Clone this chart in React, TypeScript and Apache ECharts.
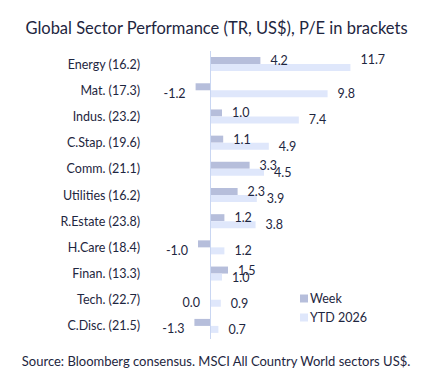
import React, { useEffect, useRef } from "react";
import * as echarts from "echarts";

const categories = [
  "Energy (16.2)",
  "Mat. (17.3)",
  "Indus. (23.2)",
  "C.Stap. (19.6)",
  "Comm. (21.1)",
  "Utilities (16.2)",
  "R.Estate (23.8)",
  "H.Care (18.4)",
  "Finan. (13.3)",
  "Tech. (22.7)",
  "C.Disc. (21.5)",
];
const weekValues = [4.2, -1.2, 1.0, 1.1, 3.3, 2.3, 1.2, -1.0, 1.5, 0.0, -1.3];
const ytdValues = [11.7, 9.8, 7.4, 4.9, 4.5, 3.9, 3.8, 1.2, 1.0, 0.9, 0.7];
const seriesNames = ["Week", "YTD 2026"];
const titleText = "Global Sector Performance (TR, US$), P/E in brackets";
const sourceText = "Source: Bloomberg consensus. MSCI All Country World sectors US$.";

const FONT = "Lato";
const TEXT = "#1e2640";

export default function App() {
  const ref = useRef<HTMLDivElement>(null);
  useEffect(() => {
    document.body.style.margin = "0";
    if (!ref.current) return;
    const chart = echarts.init(ref.current, null, { renderer: "svg" });
    const maxYtd = Math.max(...ytdValues);
    chart.setOption({
      animation: false,
      textStyle: { fontFamily: FONT, color: TEXT },
      title: {
        text: titleText,
        left: "center",
        top: 14,
        textStyle: { fontFamily: FONT, fontSize: 16.5, fontWeight: "normal", color: TEXT },
      },
      graphic: [
        {
          type: "text",
          left: "center",
          top: 354,
          style: { text: sourceText, fontFamily: FONT, fontSize: 13, fill: TEXT },
        },
      ],
      legend: {
        orient: "vertical",
        left: 295,
        top: 287,
        itemWidth: 8,
        itemHeight: 8,
        itemGap: 6,
        icon: "rect",
        textStyle: { fontFamily: FONT, fontSize: 12.5, color: TEXT, padding: [0, 0, 0, -3] },
        data: seriesNames,
      },
      grid: { left: 150, right: 55, top: 51, bottom: 40 },
      xAxis: {
        type: "value",
        min: -5,
        max: 14,
        show: false,
      },
      yAxis: {
        type: "category",
        data: categories,
        inverse: true,
        axisLine: { show: false },
        axisTick: { show: false },
        axisLabel: { fontFamily: FONT, fontSize: 12.5, color: TEXT, margin: 10 },
      },
      series: [
        {
          name: seriesNames[0],
          type: "bar",
          data: weekValues,
          barWidth: 7,
          barGap: "0%",
          itemStyle: { color: "#b6bedb" },
          label: {
            show: true,
            position: "right",
            distance: 10,
            fontFamily: FONT,
            fontSize: 12.5,
            color: TEXT,
            formatter: (p: any) => p.value.toFixed(1),
          },
          labelLayout: (p: any) => {
            const v = weekValues[p.dataIndex];
            if (v <= 0) {
              return { x: p.rect.x - 10 - p.labelRect.width, align: "left" };
            }
            return {};
          },
          markLine: {
            silent: true,
            symbol: "none",
            label: { show: false },
            lineStyle: { color: "#c9d6f2", type: "solid", width: 1 },
            data: [{ xAxis: 0 }],
          },
        },
        {
          name: seriesNames[1],
          type: "bar",
          data: ytdValues.map((v) =>
            v === maxYtd ? { value: v, label: { offset: [0, -8] } } : v
          ),
          barWidth: 7,
          barGap: "0%",
          itemStyle: { color: "#dfe7fb" },
          label: {
            show: true,
            position: "right",
            distance: 10,
            fontFamily: FONT,
            fontSize: 12.5,
            color: TEXT,
            formatter: (p: any) => Number(p.value).toFixed(1),
          },
        },
      ],
    });
    return () => chart.dispose();
  }, []);
  return <div ref={ref} style={{ width: 433, height: 379 }} />;
}
